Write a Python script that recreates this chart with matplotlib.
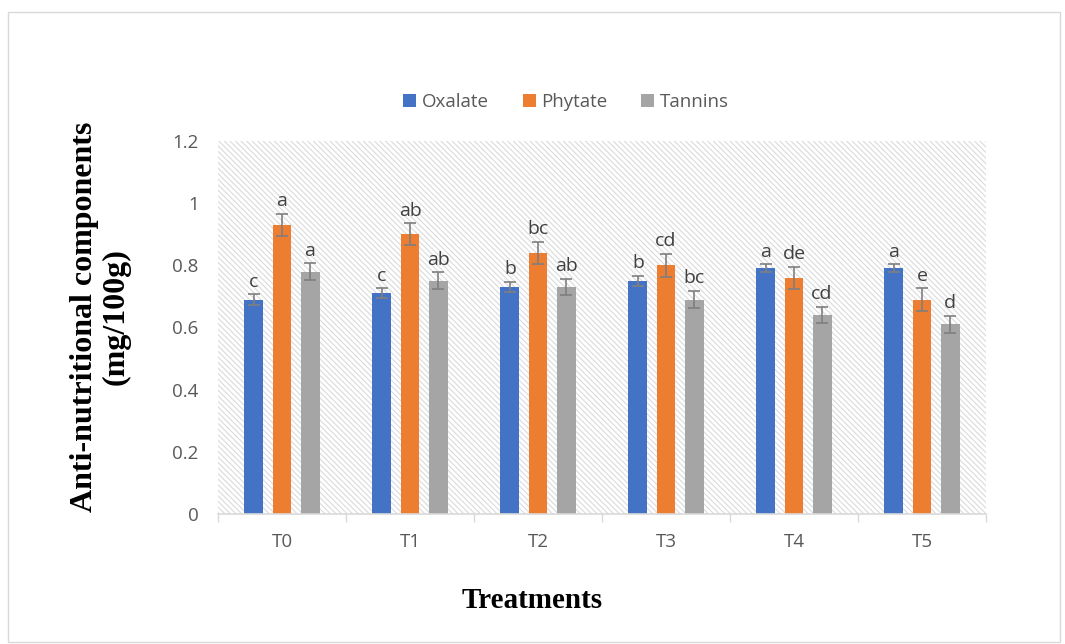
import numpy as np
import matplotlib.pyplot as plt
from matplotlib.patches import Rectangle

# data
treatments = ['T0', 'T1', 'T2', 'T3', 'T4', 'T5']
oxalate = [0.69, 0.71, 0.73, 0.75, 0.79, 0.79]
phytate = [0.93, 0.90, 0.84, 0.80, 0.76, 0.69]
tannins = [0.78, 0.75, 0.73, 0.69, 0.64, 0.61]
oxalate_err = [0.017, 0.016, 0.017, 0.017, 0.013, 0.013]
phytate_err = [0.035, 0.035, 0.035, 0.037, 0.036, 0.036]
tannins_err = [0.026, 0.027, 0.027, 0.027, 0.026, 0.027]
oxalate_lbl = ['c', 'c', 'b', 'b', 'a', 'a']
phytate_lbl = ['a', 'ab', 'bc', 'cd', 'de', 'e']
tannins_lbl = ['a', 'ab', 'ab', 'bc', 'cd', 'd']

fig = plt.figure(figsize=(10.65, 6.44), dpi=100)
ax = fig.add_axes([218 / 1065, 1 - 514 / 644, 768 / 1065, 373 / 644])

# light frame around whole chart
fig.patches.append(Rectangle((8 / 1065, 2 / 644), 1052 / 1065, 630 / 644,
                             transform=fig.transFigure, fill=False,
                             edgecolor='#d9d9d9', linewidth=1))

# hatched plot area
plt.rcParams['hatch.linewidth'] = 0.8
ax.add_patch(Rectangle((0, 0), 1, 1, transform=ax.transAxes, facecolor='white',
                       edgecolor='#dadada', hatch='\\\\\\\\\\\\', linewidth=0, zorder=0))

x = np.arange(len(treatments))
w = 0.148
off = 0.219
series = [
    (oxalate, oxalate_err, oxalate_lbl, '#4472c4', 'Oxalate', -off),
    (phytate, phytate_err, phytate_lbl, '#ed7d31', 'Phytate', 0),
    (tannins, tannins_err, tannins_lbl, '#a5a5a5', 'Tannins', off),
]
for vals, errs, lbls, col, name, dx in series:
    ax.bar(x + dx, vals, w, color=col, label=name, zorder=2)
    ax.errorbar(x + dx, vals, yerr=errs, fmt='none', ecolor='#7f7f7f',
                elinewidth=1.2, capsize=4, capthick=1.2, zorder=3)
    for xi, v, e, t in zip(x + dx, vals, errs, lbls):
        ax.text(xi, v + e + 0.012, t, ha='center', va='bottom', fontsize=14,
                color='#404040', family='Open Sans')

ax.set_xlim(-0.5, 5.5)
ax.set_ylim(0, 1.2)
ax.set_yticks([0, 0.2, 0.4, 0.6, 0.8, 1, 1.2])
ax.set_yticklabels(['0', '0.2', '0.4', '0.6', '0.8', '1', '1.2'])
ax.set_xticks(x)
ax.set_xticklabels(treatments)
ax.set_xticks(np.arange(-0.5, 6, 1), minor=True)
ax.tick_params(axis='x', which='major', length=0, pad=14)
ax.tick_params(axis='x', which='minor', length=6, color='#d9d9d9', width=1)
ax.tick_params(axis='y', length=0, pad=14)
for lab in ax.get_xticklabels() + ax.get_yticklabels():
    lab.set_fontsize(13.5)
    lab.set_color('#595959')
    lab.set_family('Open Sans')
for s in ['top', 'right', 'left']:
    ax.spines[s].set_visible(False)
ax.spines['bottom'].set_color('#d9d9d9')
ax.spines['bottom'].set_linewidth(1.2)

# axis titles placed like the original
fig.text(100 / 1065, 1 - 317 / 644, 'Anti-nutritional components\n(mg/100g)',
         rotation=90, ha='center', va='center', family='Liberation Serif',
         fontweight='bold', fontsize=23, linespacing=1.1)
fig.text(532 / 1065, 1 - 601 / 644, 'Treatments', ha='center', va='center',
         family='Liberation Serif', fontweight='bold', fontsize=21)

leg = ax.legend(loc='center', bbox_to_anchor=(566 / 1065, 1 - 102 / 644),
                bbox_transform=fig.transFigure, ncol=3, frameon=False,
                prop={'family': 'Open Sans', 'size': 13.5}, handlelength=0.7,
                handleheight=0.7, handletextpad=0.3, columnspacing=1.8)
for t in leg.get_texts():
    t.set_color('#595959')

fig.savefig('out.png', dpi=100)
